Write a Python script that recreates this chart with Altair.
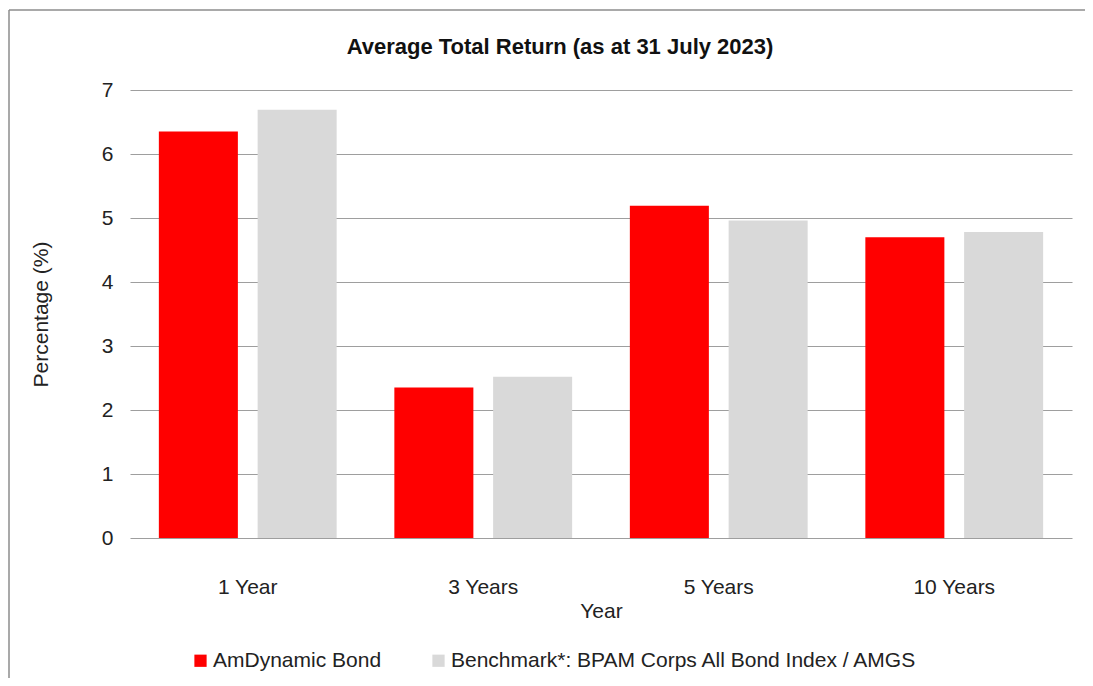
import altair as alt
import pandas as pd

periods = ["1 Year", "3 Years", "5 Years", "10 Years"]
series = ["AmDynamic Bond", "Benchmark*: BPAM Corps All Bond Index / AMGS"]
amdynamic = [6.35, 2.35, 5.19, 4.70]
benchmark = [6.69, 2.52, 4.96, 4.78]
colors = ["#ff0000", "#d9d9d9"]
y_ticks = [0, 1, 2, 3, 4, 5, 6, 7]
title_text = ["Average Total Return (as at 31 July 2023)"]

rows = []
for p, a, b in zip(periods, amdynamic, benchmark):
    rows.append({"Period": p, "Series": series[0], "Value": a})
    rows.append({"Period": p, "Series": series[1], "Value": b})
df = pd.DataFrame(rows)

FONT = "Liberation Sans"
FS = 21
W, H = 942, 448

bars = alt.Chart(df).mark_bar().encode(
    x=alt.X("Period:N", sort=periods,
            scale=alt.Scale(paddingInner=0.245, paddingOuter=0.1225),
            axis=alt.Axis(title="Year", labelAngle=0, ticks=False, domain=False,
                          labelPadding=38, titlePadding=3, labelFontSize=FS,
                          titleFontSize=FS, titleFontWeight="normal",
                          labelColor="#222222", titleColor="#222222",
                          labelFont=FONT, titleFont=FONT, grid=False)),
    xOffset=alt.XOffset("Series:N", sort=series,
                        scale=alt.Scale(paddingInner=0.2, paddingOuter=0)),
    y=alt.Y("Value:Q", scale=alt.Scale(domain=[0, 7], nice=False),
            axis=alt.Axis(title="Percentage (%)", values=y_ticks, ticks=False,
                          domain=False, labelPadding=17, titlePadding=50,
                          labelFontSize=FS, titleFontSize=FS,
                          titleFontWeight="normal", labelColor="#222222",
                          titleColor="#222222", labelFont=FONT, titleFont=FONT,
                          grid=True, gridColor="#9e9e9e", gridWidth=1.2)),
    color=alt.Color("Series:N", sort=series,
                    scale=alt.Scale(domain=series, range=colors),
                    legend=alt.Legend(title=None, orient="none", direction="horizontal",
                                      legendX=60, legendY=560, padding=0,
                                      symbolType="square", symbolSize=150,
                                      symbolStrokeWidth=0, labelFontSize=21,
                                      labelFont=FONT, labelColor="#222222",
                                      labelOffset=2, columnPadding=46,
                                      labelLimit=700)),
)

title = alt.Chart(pd.DataFrame({"t": title_text})).mark_text(
    font=FONT, fontSize=22, fontWeight="bold", color="#111111",
    align="center", baseline="alphabetic").encode(
    text="t:N", x=alt.value(430), y=alt.value(-36))

frame_top = alt.Chart(pd.DataFrame({"a": [0]})).mark_rule(color="#8c8c8c", strokeWidth=1.5).encode(
    x=alt.value(-121), x2=alt.value(955), y=alt.value(-80))
frame_left = alt.Chart(pd.DataFrame({"a": [0]})).mark_rule(color="#8c8c8c", strokeWidth=1.5).encode(
    x=alt.value(-121), y=alt.value(-80), y2=alt.value(700))

chart = alt.layer(bars, title, frame_top, frame_left).properties(
    width=W, height=H,
    autosize=alt.AutoSizeParams(type="none"),
    padding={"left": 122, "top": 82, "right": 13, "bottom": 140},
).configure_view(stroke=None)

chart.save("out.html", embed_options={"renderer": "svg", "actions": False})
